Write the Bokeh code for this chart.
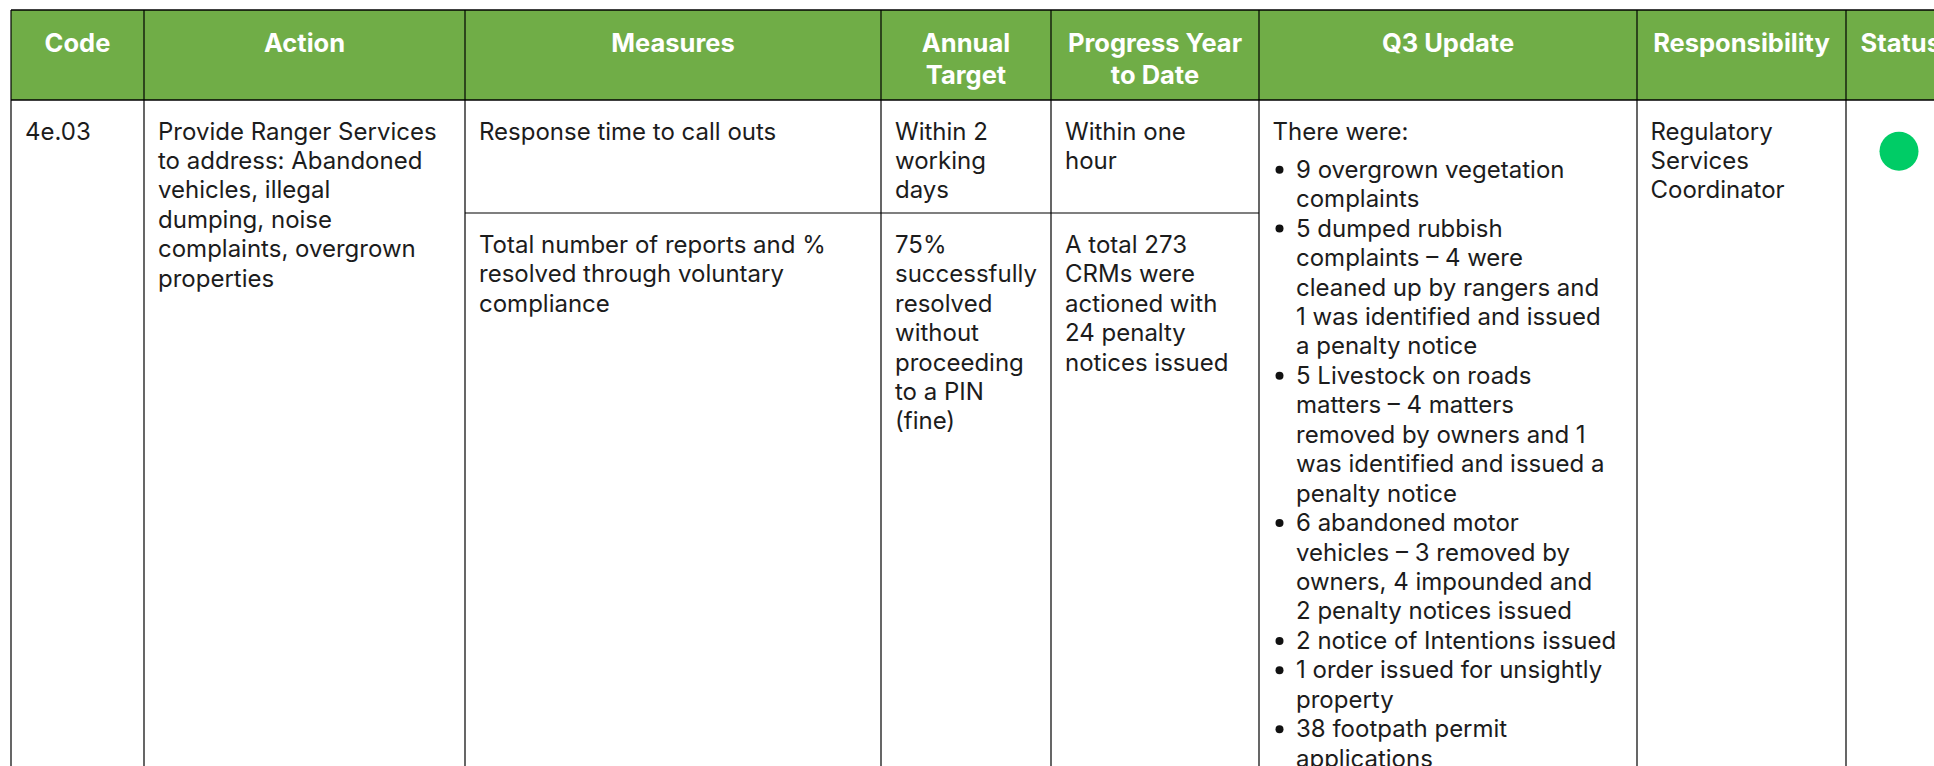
from bokeh.plotting import figure
from bokeh.core.properties import value
from bokeh.embed import file_html
from bokeh.resources import INLINE

FONT = "Inter"
BODY_SIZE = "24px"
HEAD_SIZE = "25.5px"
PITCH = 29.45
TEXT_SHIFT = -9
HEAD_SHIFT = -10

headers = [["Code"], ["Action"], ["Measures"], ["Annual", "Target"],
           ["Progress Year", "to Date"], ["Q3 Update"], ["Responsibility"], ["Status"]]
codes = ["4e.03"]
actions = ["Provide Ranger Services", "to address: Abandoned", "vehicles, illegal",
           "dumping, noise", "complaints, overgrown", "properties"]
measure_1 = ["Response time to call outs"]
measure_2 = ["Total number of reports and %", "resolved through voluntary", "compliance"]
target_1 = ["Within 2", "working", "days"]
target_2 = ["75%", "successfully", "resolved", "without", "proceeding", "to a PIN", "(fine)"]
progress_1 = ["Within one", "hour"]
progress_2 = ["A total 273", "CRMs were", "actioned with", "24 penalty", "notices issued"]
update_intro = ["There were:"]
update_items = [
    ["9 overgrown vegetation", "complaints"],
    ["5 dumped rubbish", "complaints \u2013 4 were", "cleaned up by rangers and",
     "1 was identified and issued", "a penalty notice"],
    ["5 Livestock on roads", "matters \u2013 4 matters", "removed by owners and 1",
     "was identified and issued a", "penalty notice"],
    ["6 abandoned motor", "vehicles \u2013 3 removed by", "owners, 4 impounded and",
     "2 penalty notices issued"],
    ["2 notice of Intentions issued"],
    ["1 order issued for unsightly", "property"],
    ["38 footpath permit", "applications"],
]
responsibility = ["Regulatory", "Services", "Coordinator"]
status_colour = "#00CC66"

col_edges = [10.5, 143.5, 464.5, 880.5, 1050.5, 1258.5, 1636.5, 1845.5]
TOP, HEAD_BOTTOM, ROW_SPLIT = 9.5, 99.5, 212.5
LEFT, RIGHT, BOTTOM = 0, 1934, 766

p = figure(width=RIGHT - LEFT, height=BOTTOM, x_range=(LEFT, RIGHT), y_range=(BOTTOM, 0),
           output_backend="svg", toolbar_location=None, min_border=0,
           x_axis_type=None, y_axis_type=None, outline_line_color=None)
p.grid.visible = False

p.quad(left=[col_edges[0]], right=[RIGHT], top=[TOP], bottom=[HEAD_BOTTOM],
       fill_color="#70AD47", line_color=None)

p.segment(x0=[col_edges[0]], x1=[RIGHT], y0=[TOP], y1=[TOP], line_color="#000000", line_width=1.5)
p.segment(x0=[col_edges[0]], x1=[RIGHT], y0=[HEAD_BOTTOM], y1=[HEAD_BOTTOM], line_color="#000000", line_width=1.5)
p.segment(x0=[col_edges[2]], x1=[col_edges[5]], y0=[ROW_SPLIT], y1=[ROW_SPLIT], line_color="#000000", line_width=1.2)
p.segment(x0=col_edges, x1=col_edges, y0=[TOP] * len(col_edges), y1=[BOTTOM] * len(col_edges),
          line_color="#000000", line_width=1.2)


def draw(lines, x, y0, size=BODY_SIZE, bold=False, colour="#1c1c1c", align="left", pitch=PITCH, shift=TEXT_SHIFT):
    ys = [y0 + shift + i * pitch for i in range(len(lines))]
    p.text(x=[x] * len(lines), y=ys, text=lines, text_font=value(FONT),
           text_font_size=value(size), text_font_style="bold" if bold else "normal",
           text_color=colour, text_align=align, text_baseline="alphabetic")


centres = [(a + b) / 2 for a, b in zip(col_edges, col_edges[1:] + [1950])]
for head, c in zip(headers, centres):
    if head[0] == "Status":
        draw(head, 1860, 52, HEAD_SIZE, True, "#FFFFFF", "left", 32, HEAD_SHIFT)
    else:
        draw(head, c, 52, HEAD_SIZE, True, "#FFFFFF", "center", 32, HEAD_SHIFT)

BASE1, BASE2 = 139.5, 252.7
draw(codes, 24.5, BASE1)
draw(actions, 157.5, BASE1)
draw(measure_1, 478.5, BASE1)
draw(measure_2, 478.5, BASE2)
draw(target_1, 894.5, BASE1)
draw(target_2, 894.5, BASE2)
draw(progress_1, 1064.5, BASE1)
draw(progress_2, 1064.5, BASE2)
draw(update_intro, 1272, BASE1)
draw(responsibility, 1650, BASE1)

y = 177.7
bx, by = [], []
for item in update_items:
    bx.append(1279)
    by.append(y - 8.5)
    draw(item, 1295.5, y)
    y += PITCH * len(item)
p.scatter(x=bx, y=by, size=8, marker="circle", fill_color="#111111", line_color=None)

p.scatter(x=[1898.5], y=[150.7], size=39, marker="circle", fill_color=status_colour, line_color=None)

open("out.html", "w").write(file_html(p, INLINE))
